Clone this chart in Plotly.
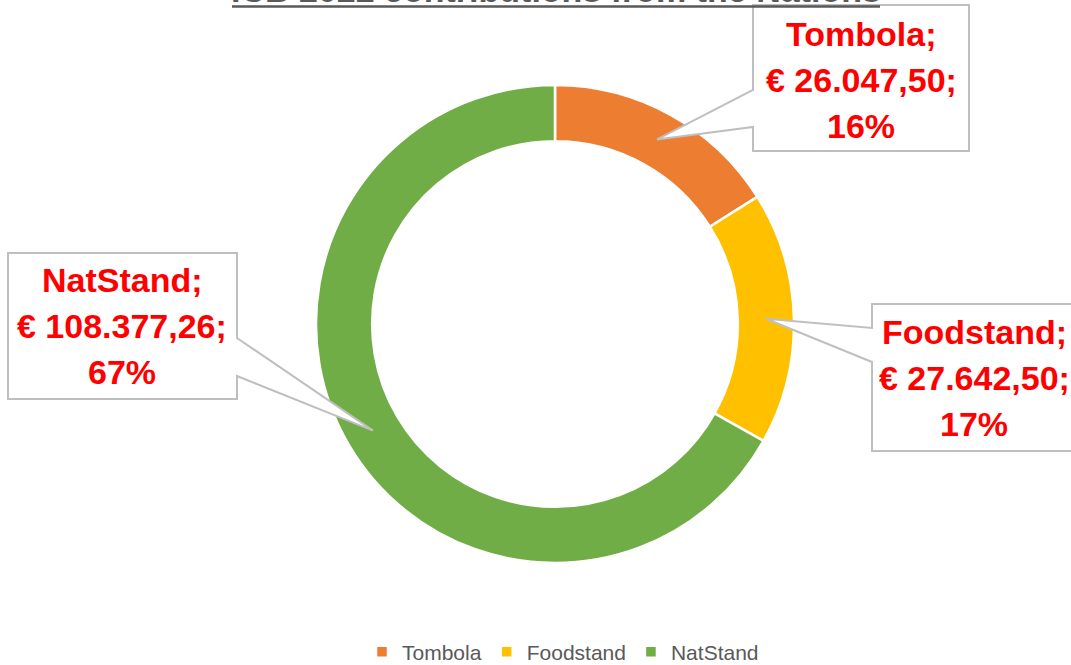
import math
import plotly.graph_objects as go

# ---- data ----
categories = ["Tombola", "Foodstand", "NatStand"]
values = [26047.50, 27642.50, 108377.26]
value_labels = ["€ 26.047,50", "€ 27.642,50", "€ 108.377,26"]
pct_labels = ["16%", "17%", "67%"]
colors = ["#ED7D31", "#FFC000", "#70AD47"]
title_text = "ICB 2022 contributions from the Nations"

# ---- layout constants (page pixels) ----
FW, FH = 1071, 665
CX, CY = 555, 324          # pie centre
R_OUT = 239
HOLE = 0.765
R_MID = R_OUT * (1 + HOLE) / 2
LINE_GAP = 46


def px(x):
    return x / FW


def py(y):
    return 1 - y / FH


# callout boxes: (x0, y0, x1, y1, side, attach_y_a, attach_y_b, text_cx, text_cy)
boxes = [
    (753, 5, 969, 151, "left", 90, 127, 861, 80),
    (872, 304, 1085, 451, "left", 328, 362, 974, 378),
    (8, 253, 237, 399, "right", 338, 376, 122, 326),
]

fig = go.Figure()
fig.add_trace(go.Pie(
    labels=categories,
    values=values,
    hole=HOLE,
    sort=False,
    direction="clockwise",
    rotation=0,
    textinfo="none",
    hoverinfo="label+value+percent",
    marker=dict(colors=colors, line=dict(color="white", width=2.5)),
    domain=dict(x=[px(CX - R_OUT), px(CX + R_OUT)], y=[py(CY + R_OUT), py(CY - R_OUT)]),
    showlegend=True,
))

total = sum(values)
shapes = []
annotations = []
cum = 0.0
for i, v in enumerate(values):
    mid_frac = (cum + v / 2) / total
    cum += v
    ang = 2 * math.pi * mid_frac
    tx = CX + R_MID * math.sin(ang)
    ty = CY - R_MID * math.cos(ang)
    x0, y0, x1, y1, side, ya, yb, tcx, tcy = boxes[i]
    if side == "left":
        pts = [(x0, y0), (x1, y0), (x1, y1), (x0, y1), (x0, yb), (tx, ty), (x0, ya)]
    else:
        pts = [(x0, y0), (x1, y0), (x1, ya), (tx, ty), (x1, yb), (x1, y1), (x0, y1)]
    path = "M " + " L ".join(f"{px(a):.5f},{py(b):.5f}" for a, b in pts) + " Z"
    shapes.append(dict(type="path", xref="paper", yref="paper", path=path,
                       fillcolor="white", line=dict(color="#BFBFBF", width=2), layer="above"))
    lines = [f"{categories[i]};", f"{value_labels[i]};", pct_labels[i]]
    for k, ln in enumerate(lines):
        annotations.append(dict(
            x=px(tcx), y=py(tcy + (k - 1) * LINE_GAP), xref="paper", yref="paper",
            showarrow=False, xanchor="center", yanchor="middle",
            text=f"<b>{ln}</b>",
            font=dict(family="Liberation Sans", size=34, color="#FF0000"),
        ))

# title (partly cut off at the top, as in the reference)
annotations.append(dict(
    x=px(556), y=py(-10), xref="paper", yref="paper", showarrow=False,
    xanchor="center", yanchor="middle",
    text=f"<b>{title_text}</b>",
    font=dict(family="Liberation Sans", size=34, color="#595959"),
))
shapes.append(dict(type="line", xref="paper", yref="paper",
                   x0=px(232), x1=px(880), y0=py(6.5), y1=py(6.5),
                   line=dict(color="#595959", width=2.5), layer="above"))

fig.update_layout(
    width=FW, height=FH,
    margin=dict(l=0, r=0, t=0, b=0, autoexpand=False),
    paper_bgcolor="white", plot_bgcolor="white",
    shapes=shapes, annotations=annotations,
    legend=dict(orientation="h", x=px(563), xanchor="center", y=py(652), yanchor="middle",
                font=dict(family="Liberation Sans", size=21, color="#595959"),
                traceorder="normal"),
)

fig.write_html(
    "out.html",
    config={"displayModeBar": False},
    post_script="document.body.style.margin='0';document.documentElement.style.overflow='hidden';",
)
